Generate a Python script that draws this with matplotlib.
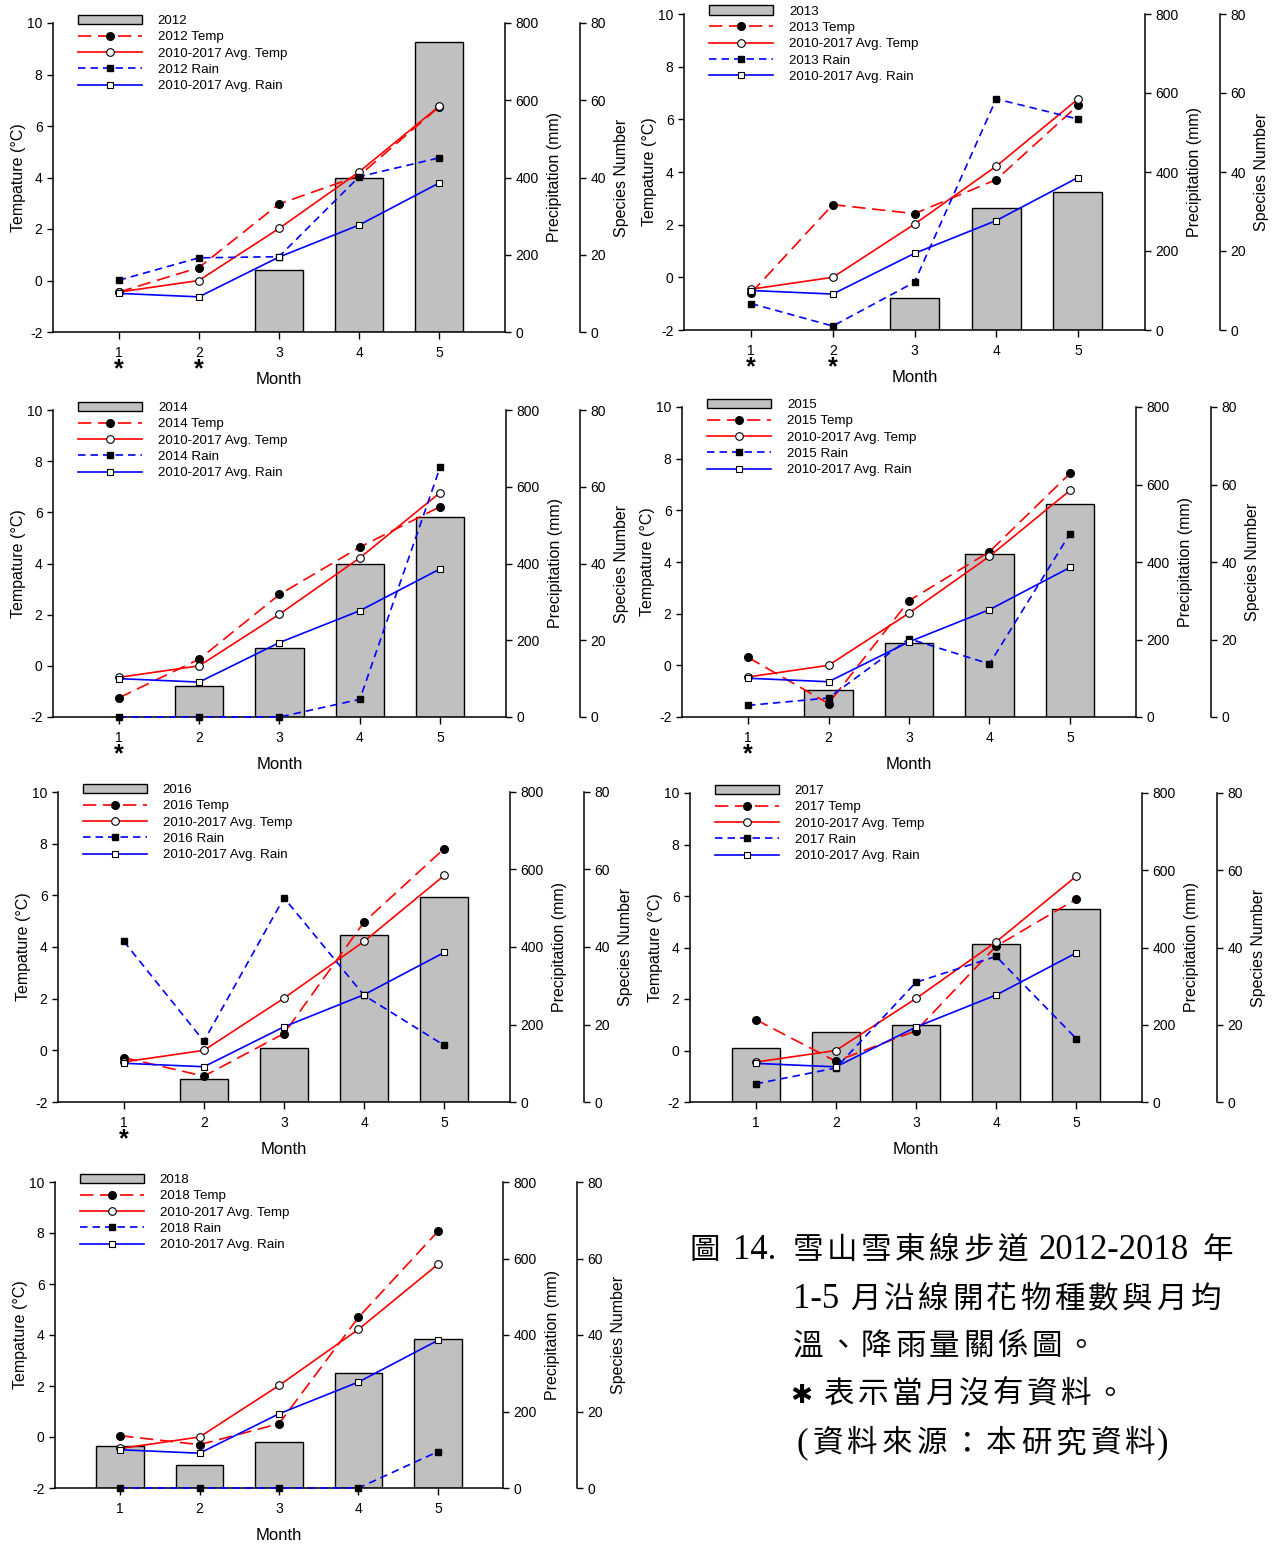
import numpy as np
import matplotlib
matplotlib.use("Agg")
import matplotlib.pyplot as plt

plt.rcParams['font.family'] = ['Liberation Sans', 'DejaVu Sans']
plt.rcParams['axes.unicode_minus'] = False

months = [1, 2, 3, 4, 5]

# 2010-2017 monthly means, shared by every panel
avg_temp = [-0.45, 0.0, 2.02, 4.22, 6.77]
avg_rain = [100, 91, 194, 277, 386]

temp_2012 = [-0.45, 0.5, 2.97, 4.07, 6.75]
rain_2012 = [134, 192, 195, 402, 451]
species_2012 = [np.nan, np.nan, 16, 40, 75]

temp_2013 = [-0.6, 2.76, 2.42, 3.71, 6.53]
rain_2013 = [67, 10, 121, 585, 534]
species_2013 = [np.nan, np.nan, 8, 31, 35]

temp_2014 = [-1.25, 0.26, 2.79, 4.64, 6.22]
rain_2014 = [0, 0, 0, 46, 651]
species_2014 = [np.nan, 8, 18, 40, 52]

temp_2015 = [0.31, -1.48, 2.5, 4.4, 7.43]
rain_2015 = [30, 49, 202, 137, 473]
species_2015 = [np.nan, 7, 19, 42, 55]

temp_2016 = [-0.28, -1.0, 0.65, 4.97, 7.81]
rain_2016 = [415, 157, 527, 275, 146]
species_2016 = [np.nan, 6, 14, 43, 53]

temp_2017 = [1.2, -0.42, 0.77, 4.05, 5.88]
rain_2017 = [47, 88, 310, 377, 164]
species_2017 = [14, 18, 20, 41, 50]

temp_2018 = [0.05, -0.3, 0.52, 4.69, 8.06]
rain_2018 = [0, 0, 0, 0, 95]
species_2018 = [11, 6, 12, 30, 39]

# months with no flowering survey
no_data = {2012: [1, 2], 2013: [1, 2], 2014: [1], 2015: [1], 2016: [1],
           2017: [], 2018: []}

W, H = 1279, 1544
fig = plt.figure(figsize=(W / 100, H / 100), dpi=100)


def rect(l, t, r, b):
    return [l / W, 1 - b / H, (r - l) / W, (b - t) / H]


def draw_panel(box, gap, year, temp, rain, species):
    ax_t = fig.add_axes(rect(*box))
    ax_s = ax_t.twinx()
    ax_p = ax_t.twinx()
    ax_s.set_zorder(1)
    ax_t.set_zorder(2)
    ax_p.set_zorder(3)
    for a in (ax_t, ax_s, ax_p):
        a.patch.set_visible(False)
        for sp in a.spines.values():
            sp.set_visible(False)
            sp.set_linewidth(1.1)
    ax_t.spines['left'].set_visible(True)
    ax_t.spines['bottom'].set_visible(True)
    ax_p.spines['right'].set_visible(True)
    ax_s.spines['right'].set_visible(True)
    ax_s.spines['right'].set_position(('outward', gap * 72 / 100))

    bars = ax_s.bar(months, species, width=0.6, color='#c0c0c0',
                    edgecolor='black', linewidth=1.0)

    l_t, = ax_t.plot(months, temp, color='red', lw=1.2, dashes=(8, 4),
                     marker='o', ms=5.5, mfc='black', mec='black',
                     clip_on=False)
    l_at, = ax_t.plot(months, avg_temp, color='red', lw=1.2, marker='o',
                      ms=5.5, mfc='white', mec='black', mew=0.8,
                      clip_on=False)
    l_r, = ax_p.plot(months, rain, color='blue', lw=1.2, dashes=(4.5, 3),
                     marker='s', ms=5, mfc='black', mec='black',
                     clip_on=False)
    l_ar, = ax_p.plot(months, avg_rain, color='blue', lw=1.2, marker='s',
                      ms=5, mfc='white', mec='black', mew=0.8,
                      clip_on=False)

    ax_t.set_xlim(0.18, 5.82)
    ax_t.set_ylim(-2, 10)
    ax_t.set_yticks(range(-2, 11, 2))
    ax_p.set_ylim(0, 800)
    ax_p.set_yticks(range(0, 801, 200))
    ax_s.set_ylim(0, 80)
    ax_s.set_yticks(range(0, 81, 20))
    ax_t.set_xticks(months)

    for a in (ax_t, ax_s, ax_p):
        a.tick_params(labelsize=10, width=1.0, length=4)
    ax_t.tick_params(axis='x', length=5, pad=5)

    ax_t.set_ylabel('Tempature (°C)', fontsize=11.5, labelpad=1)
    ax_p.set_ylabel('Precipitation (mm)', fontsize=11.5, labelpad=6)
    ax_s.set_ylabel('Species Number', fontsize=11.5, labelpad=6)
    ax_t.set_xlabel('Month', fontsize=12, labelpad=9)

    for m in no_data[year]:
        ax_t.annotate('*', xy=(m, 0), xycoords=('data', 'axes fraction'),
                      xytext=(0, -18), textcoords='offset points',
                      ha='center', va='top', fontsize=18, fontweight='bold')

    handles = [bars, l_t, l_at, l_r, l_ar]
    labels = [str(year), f'{year} Temp', '2010-2017 Avg. Temp',
              f'{year} Rain', '2010-2017 Avg. Rain']
    ax_p.legend(handles, labels, loc='upper left',
                bbox_to_anchor=(0.055, 1.027), frameon=False, fontsize=9.6,
                handlelength=4.8, handletextpad=1.2, labelspacing=0.3,
                borderaxespad=0, borderpad=0)


draw_panel((53, 23, 505, 332), 75, 2012, temp_2012, rain_2012, species_2012)
draw_panel((684, 14, 1145, 330), 75, 2013, temp_2013, rain_2013, species_2013)
draw_panel((53, 410, 506, 717), 74, 2014, temp_2014, rain_2014, species_2014)
draw_panel((682, 407, 1136, 717), 75, 2015, temp_2015, rain_2015, species_2015)
draw_panel((58, 792, 510, 1102), 74, 2016, temp_2016, rain_2016, species_2016)
draw_panel((690, 793, 1142, 1102), 75, 2017, temp_2017, rain_2017, species_2017)
draw_panel((55, 1182, 503, 1488), 74, 2018, temp_2018, rain_2018, species_2018)

# figure caption, CJK characters set on a fixed pitch
cjk = 'Noto Sans CJK TC'
latin = 'Liberation Serif'
star = 'DejaVu Sans'
caption = [
    (1259, [(690, '圖', 0), (733, '14.', None), (793, '雪山雪東線步道', 34),
            (1038, '2012-2018', None), (1203, '年', 0)]),
    (1308, [(793, '1-5', None), (850, '月沿線開花物種數與月均', 34)]),
    (1355, [(793, '溫、降雨量關係圖。', 34)]),
    (1403, [(790, '✱', 'star'), (824, '表示當月沒有資料。', 33.8)]),
    (1452, [(797, '(', None), (812, '資料來源：本研究資料', 34.8),
            (1157, ')', None)]),
]
for base, segs in caption:
    for x, s, pitch in segs:
        if pitch is None:
            fig.text(x / W, 1 - base / H, s, family=latin, fontsize=25,
                     va='baseline', ha='left')
        elif pitch == 'star':
            fig.text(x / W, 1 - base / H, s, family=star, fontsize=19,
                     va='baseline', ha='left')
        else:
            for i, ch in enumerate(s):
                fig.text((x + i * pitch) / W, 1 - base / H, ch, family=cjk,
                         fontsize=22, va='baseline', ha='left')

fig.savefig('out.png', dpi=100, facecolor='white')
